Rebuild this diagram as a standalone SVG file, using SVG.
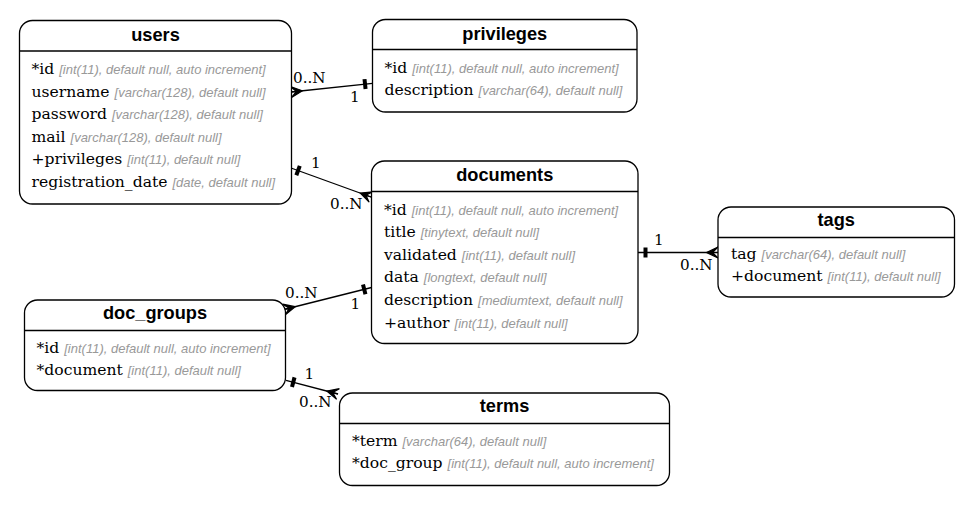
<svg xmlns="http://www.w3.org/2000/svg" width="973" height="505" viewBox="0 0 973 505">
<style>
.box{fill:#fff;stroke:#000;stroke-width:1.3}
.hd{stroke:#000;stroke-width:1.3}
.title{font-family:"Liberation Sans",Arial,sans-serif;font-weight:bold;font-size:18.2px;text-anchor:middle;fill:#000}
.row{font-family:"DejaVu Serif",serif;font-size:15.6px;fill:#000}
.ty{font-family:"Liberation Sans",Arial,sans-serif;font-style:italic;font-size:13px;fill:#999}
.lbl{font-family:"DejaVu Serif",serif;font-size:15.2px;fill:#000}
.edge{stroke:#000;stroke-width:1.3;fill:none}
</style>
<defs>
<marker id="crow" markerUnits="userSpaceOnUse" markerWidth="14" markerHeight="12" refX="0" refY="0" orient="auto-start-reverse" overflow="visible">
<polygon points="-11.5,0 0,-5.5 -5.5,0 0,0 -5.5,0 0,5.5" fill="#000" stroke="#000" stroke-width="1.2" stroke-linejoin="miter"/>
</marker>
<marker id="tee" markerUnits="userSpaceOnUse" markerWidth="14" markerHeight="12" refX="0" refY="0" orient="auto-start-reverse" overflow="visible">
<rect x="-9.5" y="-5" width="4" height="10" fill="#000"/>
</marker>
</defs>
<g id="connectors">
<line class="edge" x1="291" y1="92" x2="372.5" y2="83.3" marker-start="url(#crow)" marker-end="url(#tee)"/>
<text class="lbl" x="293" y="82.5">0..N</text>
<text class="lbl" x="350" y="102">1</text>
<line class="edge" x1="291" y1="168" x2="371" y2="197" marker-start="url(#tee)" marker-end="url(#crow)"/>
<text class="lbl" x="311" y="168">1</text>
<text class="lbl" x="330" y="208.5">0..N</text>
<line class="edge" x1="638" y1="252.5" x2="718" y2="252.5" marker-start="url(#tee)" marker-end="url(#crow)"/>
<text class="lbl" x="654" y="244.5">1</text>
<text class="lbl" x="680" y="270">0..N</text>
<line class="edge" x1="284" y1="309.5" x2="371.5" y2="287.5" marker-start="url(#crow)" marker-end="url(#tee)"/>
<text class="lbl" x="285" y="298.3">0..N</text>
<text class="lbl" x="350.5" y="309">1</text>
<line class="edge" x1="286" y1="380.3" x2="338" y2="394" marker-start="url(#tee)" marker-end="url(#crow)"/>
<text class="lbl" x="304.5" y="379">1</text>
<text class="lbl" x="299" y="407">0..N</text>
</g>
<g id="users">
<rect class="box" x="19.5" y="20.5" width="272" height="183.5" rx="13"/>
<line class="hd" x1="19.5" y1="51" x2="291.5" y2="51"/>
<text class="title" x="155.5" y="40.5">users</text>
<text class="row" x="31.5" y="74">*id <tspan class="ty">[int(11), default null, auto increment]</tspan></text>
<text class="row" x="31.5" y="96.6">username <tspan class="ty">[varchar(128), default null]</tspan></text>
<text class="row" x="31.5" y="119.2">password <tspan class="ty">[varchar(128), default null]</tspan></text>
<text class="row" x="31.5" y="141.8">mail <tspan class="ty">[varchar(128), default null]</tspan></text>
<text class="row" x="31.5" y="164.4">+privileges <tspan class="ty">[int(11), default null]</tspan></text>
<text class="row" x="31.5" y="187">registration_date <tspan class="ty">[date, default null]</tspan></text>
</g>
<g id="privileges">
<rect class="box" x="372.5" y="19.5" width="264.5" height="92.5" rx="13"/>
<line class="hd" x1="372.5" y1="49.5" x2="637" y2="49.5"/>
<text class="title" x="504.75" y="39.5">privileges</text>
<text class="row" x="384.5" y="72.5">*id <tspan class="ty">[int(11), default null, auto increment]</tspan></text>
<text class="row" x="384.5" y="95">description <tspan class="ty">[varchar(64), default null]</tspan></text>
</g>
<g id="documents">
<rect class="box" x="371.5" y="161" width="266.5" height="182.5" rx="13"/>
<line class="hd" x1="371.5" y1="191.5" x2="638" y2="191.5"/>
<text class="title" x="504.75" y="180.5">documents</text>
<text class="row" x="384" y="214.5">*id <tspan class="ty">[int(11), default null, auto increment]</tspan></text>
<text class="row" x="384" y="237.1">title <tspan class="ty">[tinytext, default null]</tspan></text>
<text class="row" x="384" y="259.7">validated <tspan class="ty">[int(11), default null]</tspan></text>
<text class="row" x="384" y="282.3">data <tspan class="ty">[longtext, default null]</tspan></text>
<text class="row" x="384" y="304.9">description <tspan class="ty">[mediumtext, default null]</tspan></text>
<text class="row" x="384" y="327.5">+author <tspan class="ty">[int(11), default null]</tspan></text>
</g>
<g id="tags">
<rect class="box" x="718" y="207" width="236.5" height="90" rx="13"/>
<line class="hd" x1="718" y1="237.5" x2="954.5" y2="237.5"/>
<text class="title" x="836.25" y="226">tags</text>
<text class="row" x="731" y="259">tag <tspan class="ty">[varchar(64), default null]</tspan></text>
<text class="row" x="731" y="281.3">+document <tspan class="ty">[int(11), default null]</tspan></text>
</g>
<g id="doc_groups">
<rect class="box" x="24.5" y="300" width="261" height="90.5" rx="13"/>
<line class="hd" x1="24.5" y1="330.5" x2="285.5" y2="330.5"/>
<text class="title" x="155" y="319">doc_groups</text>
<text class="row" x="36.5" y="353">*id <tspan class="ty">[int(11), default null, auto increment]</tspan></text>
<text class="row" x="36.5" y="375.3">*document <tspan class="ty">[int(11), default null]</tspan></text>
</g>
<g id="terms">
<rect class="box" x="339.5" y="393" width="330" height="92.5" rx="13"/>
<line class="hd" x1="339.5" y1="423.5" x2="669.5" y2="423.5"/>
<text class="title" x="504.5" y="412">terms</text>
<text class="row" x="352" y="445.5">*term <tspan class="ty">[varchar(64), default null]</tspan></text>
<text class="row" x="352" y="468.3">*doc_group <tspan class="ty">[int(11), default null, auto increment]</tspan></text>
</g>
</svg>
